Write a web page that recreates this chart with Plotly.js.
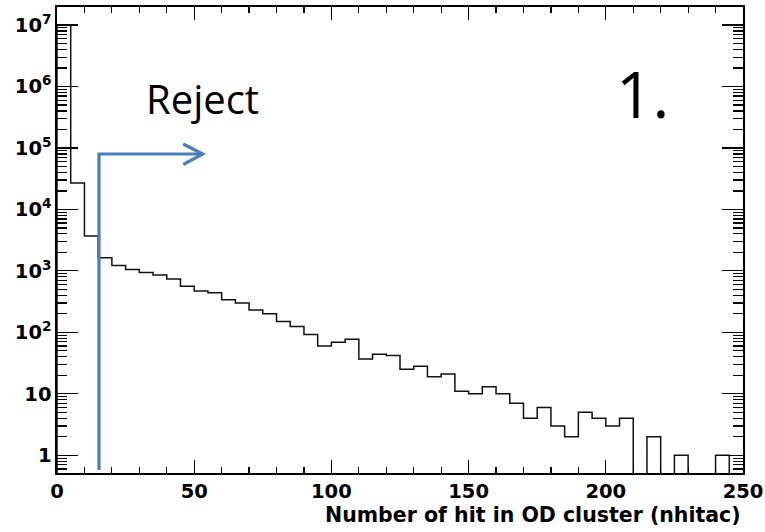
<!DOCTYPE html>
<html>
<head>
<meta charset="utf-8">
<script src="https://cdn.plot.ly/plotly-3.0.1.min.js"></script>
<style>html,body{margin:0;padding:0;background:#fff;}#chart{width:765px;height:532px;}</style>
</head>
<body>
<div id="chart"></div>
<script>
// bin lower edges (width 5) of nhitac histogram
const binWidth = 5;
const binLow = [0,5,10,15,20,25,30,35,40,45,50,55,60,65,70,75,80,85,90,95,100,105,110,115,120,125,130,135,140,145,150,155,160,165,170,175,180,185,190,195,200,205,210,215,220,225,230,235,240,245];
const counts = [1.0e7,2.7e4,3700,1630,1220,1050,940,860,740,560,470,440,340,300,230,200,150,124,92,60,69,77,37,44,42,25,28,19,21,11,10,13,10,7,4,6,3,2,5,4,3,4,0,2,0,1,0,0,1,0];
const yTickVals = [1,10,100,1e3,1e4,1e5,1e6,1e7];
const yTickText = ["1","10","10<sup>2</sup>","10<sup>3</sup>","10<sup>4</sup>","10<sup>5</sup>","10<sup>6</sup>","10<sup>7</sup>"];
const xTitle = "Number of hit in OD cluster (nhitac)";
const cutValue = 15.3;   // reject cut position
const rejectLabel = "Reject";
const panelLabel = "1.";

// build step outline; empty bins drop below the frame (clipped)
const floorVal = 1e-3;
const hx = [0], hy = [floorVal];
binLow.forEach((lo, i) => { hx.push(lo); hy.push(counts[i] > 0 ? counts[i] : floorVal); });
hx.push(binLow[binLow.length-1] + binWidth); hy.push(floorVal);

const tickFont = {family: "DejaVu Sans", size: 19.5, color: "#000", weight: "bold"};
const blue = "#4a7ebb";

const data = [{
  x: hx, y: hy, type: "scatter", mode: "lines",
  line: {shape: "hv", color: "#111", width: 1.5},
  hoverinfo: "skip"
}];

const layout = {
  width: 765, height: 532,
  margin: {l: 57, r: 22, t: 7, b: 59},
  paper_bgcolor: "#fff", plot_bgcolor: "#fff",
  showlegend: false,
  xaxis: {
    range: [0, 250], dtick: 50, tick0: 0,
    ticks: "inside", ticklen: 13, tickwidth: 1.2, tickcolor: "#000",
    showline: true, linecolor: "#000", linewidth: 1.6, mirror: "allticks",
    showgrid: false, zeroline: false,
    tickfont: tickFont,
    minor: {dtick: 10, ticks: "inside", ticklen: 6, tickwidth: 1.2, tickcolor: "#000", showgrid: false}
  },
  yaxis: {
    type: "log", range: [-0.288, 7.293],
    tickmode: "array", tickvals: yTickVals, ticktext: yTickText,
    ticks: "inside", ticklen: 21, tickwidth: 1.2, tickcolor: "#000",
    showline: true, linecolor: "#000", linewidth: 1.6, mirror: "allticks",
    showgrid: false, zeroline: false,
    tickfont: tickFont,
    minor: {dtick: "D1", ticks: "inside", ticklen: 10, tickwidth: 1.2, tickcolor: "#000", showgrid: false}
  },
  shapes: [
    {type: "path", xref: "x", yref: "paper",
     path: `M ${cutValue},0.0064 L ${cutValue},0.6845 L 53.1,0.6845`,
     line: {color: blue, width: 3.2}},
    {type: "path", xref: "x", yref: "paper",
     path: "M 46.0,0.706 L 53.1,0.6845 L 46.0,0.662",
     line: {color: blue, width: 3.2}}
  ],
  annotations: [
    {text: xTitle, xref: "paper", yref: "paper", x: 1.0, y: -0.0912,
     xanchor: "right", yanchor: "middle", showarrow: false,
     font: {family: "DejaVu Sans", size: 20.5, color: "#000", weight: "bold"}},
    {text: rejectLabel, xref: "paper", yref: "paper", x: 0.1264, y: 0.8026,
     xanchor: "left", yanchor: "middle", showarrow: false,
     font: {family: "Open Sans", size: 40, color: "#000"}},
    {text: panelLabel, xref: "paper", yref: "paper", x: 0.8535, y: 0.8144,
     xanchor: "center", yanchor: "middle", showarrow: false,
     font: {family: "Open Sans", size: 64, color: "#000"}}
  ]
};

Plotly.newPlot("chart", data, layout, {staticPlot: true, displayModeBar: false});
</script>
</body>
</html>
